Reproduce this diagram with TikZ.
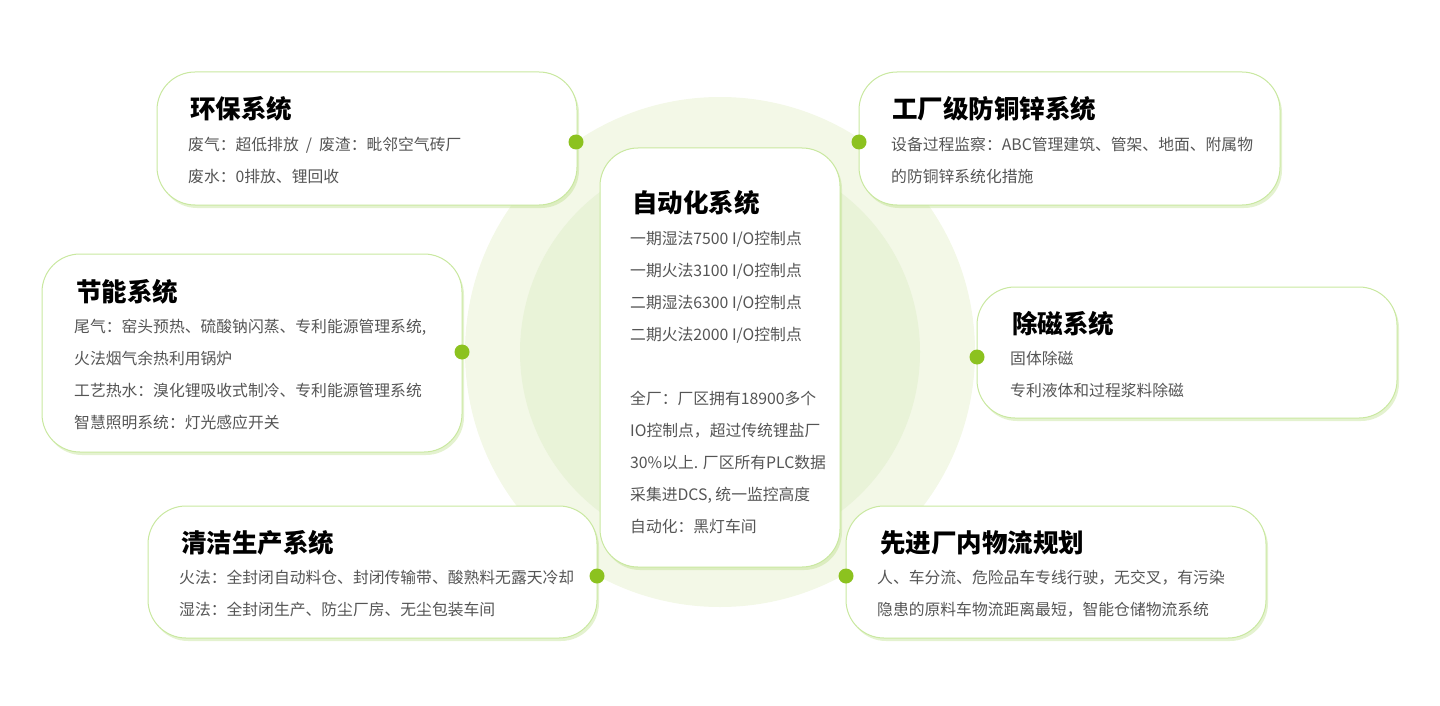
\documentclass[tikz,border=0pt]{standalone}
\usepackage{fontspec}
\setmainfont{Noto Sans CJK SC}
\definecolor{lineg}{HTML}{C9E8A0}
\definecolor{shadg}{HTML}{B3DB78}
\definecolor{dotg}{HTML}{8CC21F}
\definecolor{outc}{HTML}{F3F8E7}
\definecolor{inc}{HTML}{E9F3D8}
\definecolor{txt}{HTML}{555555}
\tikzset{
 card/.style={draw=lineg,line width=1pt,fill=white,rounded corners=38pt},
 cardshadow/.style={fill=shadg,opacity=0.35,rounded corners=38pt},
 gdot/.style={circle,fill=dotg,inner sep=0pt,minimum size=15pt},
 ttl/.style={anchor=west,inner sep=0pt,font=\fontsize{25.5}{30}\selectfont\bfseries,text=black},
 body/.style={anchor=north west,inner sep=0pt,align=left,font=\fontsize{15.8}{32}\selectfont,text=txt},
}
\begin{document}
\begin{tikzpicture}[x=1pt,y=-1pt]
\useasboundingbox (0,0) rectangle (1440,706);
\fill[outc] (720,352) circle (255);
\fill[inc] (720,352) circle (200);
% shadows
\foreach \a/\b/\c/\d in {157/72/577/205, 859/72/1280/205, 42/254/462/452, 977/287/1397/418, 148/506/597/638, 846/506/1266/638, 600/148/840/567}
  \fill[cardshadow] (\a+2,\b+3) rectangle (\c+2,\d+3);
% cards
\draw[card] (157,72) rectangle (577,205);
\draw[card] (859,72) rectangle (1280,205);
\draw[card] (42,254) rectangle (462,452);
\draw[card] (977,287) rectangle (1397,418);
\draw[card] (148,506) rectangle (597,638);
\draw[card] (846,506) rectangle (1266,638);
\draw[card] (600,148) rectangle (840,567);
% dots
\node[gdot] (d1) at (576,142) {};
\node[gdot] (d2) at (859,142) {};
\node[gdot] (d3) at (462,352) {};
\node[gdot] (d4) at (977,357) {};
\node[gdot] (d5) at (597,576) {};
\node[gdot] (d6) at (846,576) {};
% texts
\node[ttl] (t1) at (190,109) {环保系统};
\node[body] (b1) at (188,137) {废气：超低排放 ~/~ 废渣：毗邻空气砖厂\\废水：0排放、锂回收};
\node[ttl] (t2) at (892,109) {工厂级防铜锌系统};
\node[body] (b2) at (891,137) {设备过程监察：ABC管理建筑、管架、地面、附属物\\的防铜锌系统化措施};
\node[ttl] (t3) at (76,292) {节能系统};
\node[body] (b3) at (74,319) {尾气：窑头预热、硫酸钠闪蒸、专利能源管理系统,\\火法烟气余热利用锅炉\\工艺热水：溴化锂吸收式制冷、专利能源管理系统\\智慧照明系统：灯光感应开关};
\node[ttl] (t4) at (1012,324) {除磁系统};
\node[body] (b4) at (1010,351) {固体除磁\\专利液体和过程浆料除磁};
\node[ttl] (t5) at (181,543) {清洁生产系统};
\node[body] (b5) at (179,570) {火法：全封闭自动料仓、封闭传输带、酸熟料无露天冷却\\湿法：全封闭生产、防尘厂房、无尘包装车间};
\node[ttl] (t6) at (880,543) {先进厂内物流规划};
\node[body] (b6) at (877,570) {人、车分流、危险品车专线行驶，无交叉，有污染\\隐患的原料车物流距离最短，智能仓储物流系统};
\node[ttl] (t7) at (632,203) {自动化系统};
\node[body] (b7) at (630,231) {一期湿法7500 I/O控制点\\一期火法3100 I/O控制点\\二期湿法6300 I/O控制点\\二期火法2000 I/O控制点\\[32pt]全厂：厂区拥有18900多个\\IO控制点，超过传统锂盐厂\\30\%以上. 厂区所有PLC数据\\采集进DCS, 统一监控高度\\自动化：黑灯车间};
\end{tikzpicture}
\end{document}
